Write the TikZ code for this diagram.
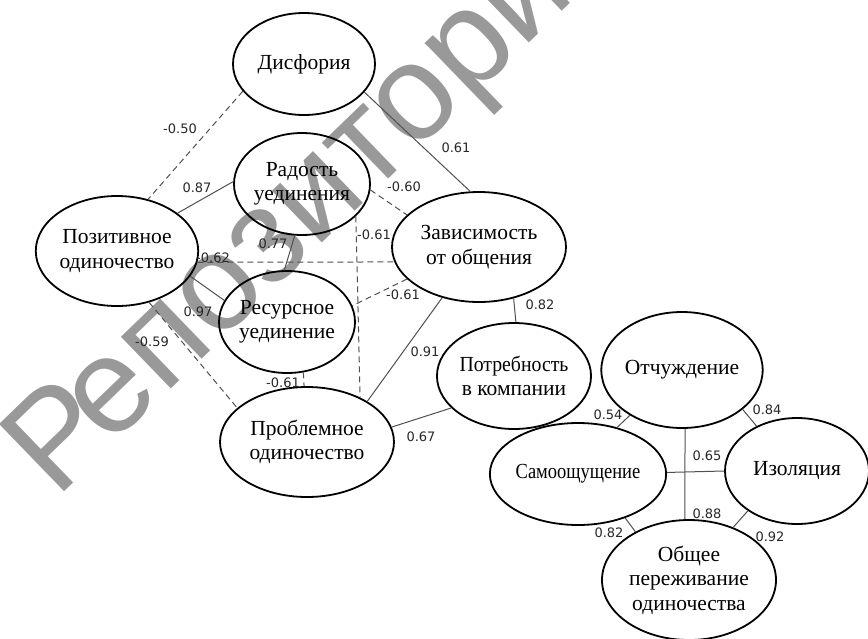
\documentclass[tikz,border=0pt]{standalone}
\usepackage{fontspec}
\setmainfont{Liberation Serif}
\newfontfamily\lblfont{DejaVu Sans}
\newfontfamily\wmfont{Liberation Sans}
\usetikzlibrary{shapes.geometric}
\definecolor{wmgray}{RGB}{153,153,153}
\definecolor{lncol}{RGB}{80,80,80}
\definecolor{lblcol}{RGB}{40,40,40}
\tikzset{
  ell/.style={ellipse, draw, line width=1.8pt, inner sep=0pt, align=center,
    font=\fontsize{21.5}{24.5}\selectfont},
  conn/.style={draw=lncol, line width=1pt},
  dconn/.style={conn, dash pattern=on 6pt off 4pt},
  lbl/.style={font=\lblfont\fontsize{13}{14}\selectfont, text=lblcol, inner sep=0pt},
  wm/.style={font=\wmfont\fontsize{136}{140}\selectfont, text=wmgray, inner sep=0pt}
}
\begin{document}
\begin{tikzpicture}[x=1pt,y=-1pt]
\useasboundingbox (0,0) rectangle (868,638);
\fill[white] (0,0) rectangle (868,638);
% watermark
\node[wm, rotate=44, anchor=base west] (wmk) at (56,500) {Р\kern-16pt епозиторий};
% ellipses
\node[ell, minimum width=142, minimum height=102] (dis) at (304,64) {Дисфория};
\node[ell, minimum width=136, minimum height=102] (rad) at (302,184) {Радость\\уединения};
\node[ell, minimum width=154, minimum height=110] (poz) at (117,251) {Позитивное\\одиночество};
\node[ell, minimum width=174, minimum height=110] (zav) at (479,247) {Зависимость\\от общения};
\node[ell, minimum width=136, minimum height=102] (res) at (287,322) {Ресурсное\\уединение};
\node[ell, minimum width=174, minimum height=110] (pro) at (307,442) {Проблемное\\одиночество};
\node[ell, minimum width=152, minimum height=106] (pot) at (514,376) {\scalebox{0.92}[1]{Потребность}\\в компании};
\node[ell, minimum width=160, minimum height=116] (otc) at (682,370) {\raisebox{6pt}{Отчуждение}};
\node[ell, minimum width=176, minimum height=102] (sam) at (578,474) {\scalebox{0.86}[1]{Самоощущение}};
\node[ell, minimum width=144, minimum height=106] (izo) at (797,471) {Изоляция};
\node[ell, minimum width=174, minimum height=120] (obs) at (689,580) {Общее\\переживание\\одиночества};
% connectors
\draw[dconn] (dis.204) -- (poz.59);
\draw[conn]  (dis.-25) -- (zav.99);
\draw[conn]  (rad.178) -- (poz.32);
\draw[dconn] (rad.-5) -- (zav.156);
\draw[dconn] (rad.-31) -- (pro.40);
\draw[conn]  (rad.262) -- (res.93);
\draw[dconn] (poz.-8) -- (zav.190);
\draw[conn]  (poz.-19) -- (res.161);
\draw[dconn] (poz.-58) -- (pro.154);
\draw[dconn] (res.-72) -- (pro.93);
\draw[dconn] (zav.204) -- (res.14);
\draw[conn]  (zav.234) -- (pro.34);
\draw[conn]  (zav.-56) -- (pot.88);
\draw[conn]  (pot.207) -- (pro.10);
\draw[conn]  (otc.221) -- (sam.50);
\draw[conn]  (otc.-33) -- (izo.132);
\draw[conn]  (otc.-87) -- (obs.94);
\draw[conn]  (sam.1) -- (izo.180);
\draw[conn]  (sam.-43) -- (obs.138);
\draw[conn]  (izo.219) -- (obs.50);
% labels
\node[lbl] (l01) at (180,129) {-0.50};
\node[lbl] (l02) at (456,148) {0.61};
\node[lbl] (l03) at (197,188) {0.87};
\node[lbl] (l04) at (404,187) {-0.60};
\node[lbl] (l05) at (374,235) {-0.61};
\node[lbl] (l06) at (273,244) {0.77};
\node[lbl] (l07) at (213,258) {-0.62};
\node[lbl] (l08) at (198,312) {0.97};
\node[lbl] (l09) at (152,342) {-0.59};
\node[lbl] (l10) at (283,383) {-0.61};
\node[lbl] (l11) at (403,295) {-0.61};
\node[lbl] (l12) at (425,352) {0.91};
\node[lbl] (l13) at (540,305) {0.82};
\node[lbl] (l14) at (421,437) {0.67};
\node[lbl] (l15) at (608,415) {0.54};
\node[lbl] (l16) at (767,410) {0.84};
\node[lbl] (l17) at (707,456) {0.65};
\node[lbl] (l18) at (707,514) {0.88};
\node[lbl] (l19) at (609,533) {0.82};
\node[lbl] (l20) at (770,537) {0.92};
\end{tikzpicture}
\end{document}
